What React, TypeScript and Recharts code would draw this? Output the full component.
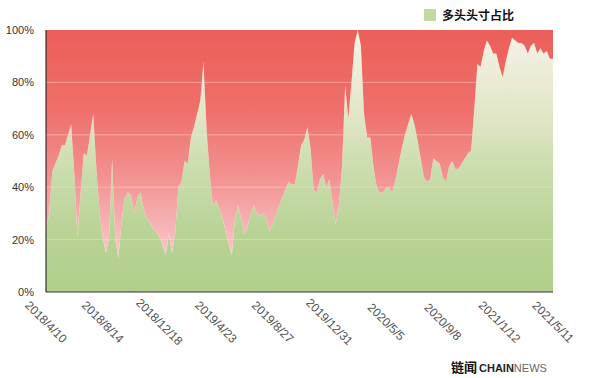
import { AreaChart, Area, XAxis, YAxis, ReferenceLine, Legend } from 'recharts';

// weekly share of long positions (%)
const LONG_SHARE = [
  24, 30, 46, 49, 52, 56, 56, 60, 64, 45, 21, 38, 53, 52, 60, 68, 47, 31,
  21, 15, 20, 51, 20, 13, 27, 36, 38, 37, 30, 36, 38, 32, 28, 27, 24, 23,
  21, 18, 14, 22, 15, 22, 40, 42, 50, 49, 59, 63, 68, 73, 88, 62, 45, 33,
  35, 32, 29, 23, 18, 14, 28, 33, 28, 22, 25, 30, 33, 30, 29, 30, 28, 23,
  26, 29, 33, 36, 39, 42, 41, 41, 48, 56, 58, 63, 55, 39, 38, 43, 45, 40,
  43, 34, 26, 33, 48, 79, 66, 80, 95, 100, 94, 68, 59, 59, 48, 40, 38, 38,
  40, 40, 38, 43, 49, 55, 60, 64, 68, 64, 58, 51, 44, 42, 43, 51, 50, 49,
  44, 42, 48, 50, 47, 47, 49, 51, 53, 54, 70, 87, 86, 92, 96, 94, 91, 91,
  86, 82, 88, 93, 97, 96, 95, 95, 94, 91, 94, 95, 91, 93, 91, 92, 89, 89,
];

const FIRST_WEEK = Date.UTC(2018, 3, 10);

const TICK_LABELS = [
  '2018/4/10', '2018/8/14', '2018/12/18', '2019/4/23', '2019/8/27',
  '2019/12/31', '2020/5/5', '2020/9/8', '2021/1/12', '2021/5/11',
];

const Y_TICKS = [0, 20, 40, 60, 80, 100];
const GRID_LEVELS = [20, 40, 60, 80];

const weekLabel = (i: number) => {
  const d = new Date(FIRST_WEEK + i * 7 * 86400000);
  return `${d.getUTCFullYear()}/${d.getUTCMonth() + 1}/${d.getUTCDate()}`;
};

const data = LONG_SHARE.map((v, i) => ({
  date: weekLabel(i),
  long: v,
  short: 100 - v,
}));

function DateTick(props: any) {
  const { x, y, payload } = props;
  if (!TICK_LABELS.includes(payload.value)) return <g />;
  const cy = y + 22;
  return (
    <text
      x={x}
      y={cy}
      textAnchor="middle"
      dominantBaseline="central"
      fontSize={12}
      fill="#555"
      transform={`rotate(45 ${x} ${cy})`}
    >
      {payload.value}
    </text>
  );
}

function LegendBox() {
  return (
    <div style={{ display: 'flex', alignItems: 'center', whiteSpace: 'nowrap' }}>
      <span style={{ width: 12, height: 12, background: '#c3d9a4', display: 'inline-block', marginRight: 6 }} />
      <span style={{ fontSize: 12, fontWeight: 700, color: '#111', fontFamily: '"Noto Sans CJK SC", sans-serif' }}>
        多头头寸占比
      </span>
    </div>
  );
}

export default function App() {
  return (
    <div style={{ position: 'absolute', left: 0, top: 0, width: 600, height: 378, background: '#fff', fontFamily: '"Liberation Sans", Arial, sans-serif' }}>
      <AreaChart width={600} height={378} data={data} margin={{ top: 30, right: 47, bottom: 26, left: 0 }}>
        <defs>
          <linearGradient id="longFill" gradientUnits="userSpaceOnUse" x1="0" y1="30" x2="0" y2="292">
            <stop offset="0" stopColor="#f7f2e8" />
            <stop offset="0.3" stopColor="#e3e7c9" />
            <stop offset="0.55" stopColor="#c9dcab" />
            <stop offset="0.78" stopColor="#b8d394" />
            <stop offset="1" stopColor="#b1cf8b" />
          </linearGradient>
          <linearGradient id="shortFill" gradientUnits="userSpaceOnUse" x1="0" y1="30" x2="0" y2="292">
            <stop offset="0" stopColor="#ec5f59" />
            <stop offset="0.3" stopColor="#ef6f6a" />
            <stop offset="0.55" stopColor="#f2908e" />
            <stop offset="0.75" stopColor="#f6b4b6" />
            <stop offset="0.9" stopColor="#f9d0d2" />
            <stop offset="1" stopColor="#fbdcdc" />
          </linearGradient>
        </defs>
        <XAxis
          dataKey="date"
          interval={0}
          tickLine={false}
          tick={<DateTick />}
          height={60}
          axisLine={{ stroke: '#333' }}
        />
        <YAxis
          domain={[0, 100]}
          ticks={Y_TICKS}
          width={46}
          tickLine={false}
          tickMargin={6}
          tickFormatter={(v: number) => `${v}%`}
          tick={{ fontSize: 11, fill: '#333' }}
          axisLine={{ stroke: '#111' }}
        />
        <Area
          type="linear"
          dataKey="long"
          stackId="share"
          stroke="none"
          fill="url(#longFill)"
          fillOpacity={1}
          isAnimationActive={false}
        />
        <Area
          type="linear"
          dataKey="short"
          stackId="share"
          stroke="none"
          fill="url(#shortFill)"
          fillOpacity={1}
          legendType="none"
          isAnimationActive={false}
        />
        {GRID_LEVELS.map(level => (
          <ReferenceLine key={level} y={level} stroke="rgba(255,225,215,0.45)" />
        ))}
        <Legend
          layout="vertical"
          verticalAlign="middle"
          align="center"
          wrapperStyle={{ top: 6, left: 424 }}
          content={<LegendBox />}
        />
      </AreaChart>
      <div style={{ position: 'absolute', left: 451, top: 358, whiteSpace: 'nowrap', lineHeight: '15px', fontFamily: '"Noto Sans CJK SC", sans-serif' }}>
        <span style={{ fontSize: 13, fontWeight: 700, color: '#111' }}>链闻</span>
        <span style={{ fontSize: 11, fontWeight: 700, color: '#222', marginLeft: 2, fontFamily: '"Liberation Sans", Arial, sans-serif' }}>CHAIN</span>
        <span style={{ fontSize: 11, color: '#666', fontFamily: '"Liberation Sans", Arial, sans-serif' }}>NEWS</span>
      </div>
    </div>
  );
}
